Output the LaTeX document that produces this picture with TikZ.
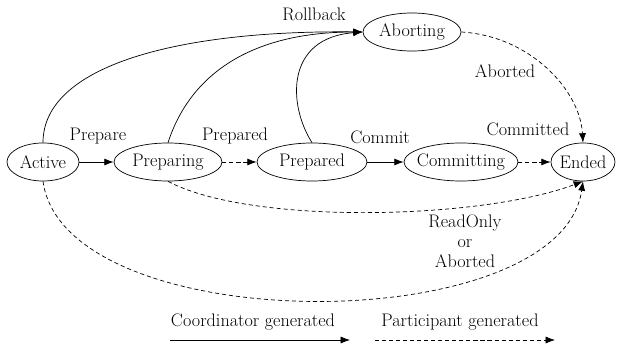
\documentclass[tikz,border=0pt]{standalone}
\usepackage{tikz}
\usetikzlibrary{shapes.geometric,arrows.meta}

\begin{document}
\begin{tikzpicture}[x=0.03cm,y=-0.03cm,line width=0.6pt,
  stnode/.style={draw,ellipse,inner xsep=-7pt,inner ysep=0pt,minimum height=1.14cm,font=\fontsize{15.5}{17}\selectfont},
  lbl/.style={font=\fontsize{15.5}{17}\selectfont,inner sep=1pt},
  coordarr/.style={-{Latex[length=8pt,width=6pt]}},
  partarr/.style={coordarr,dash pattern=on 3.5pt off 2.5pt}]
\useasboundingbox (0,0) rectangle (619,346);
\node[stnode,minimum width=2.16cm] (active) at (43,162) {Active};
\node[stnode,minimum width=3.24cm] (preparing) at (168,162) {Preparing};
\node[stnode,minimum width=3.3cm] (prepared) at (312,162) {Prepared};
\node[stnode,minimum width=3.42cm] (committing) at (461,162) {Committing};
\node[stnode,minimum width=1.92cm] (ended) at (583,162) {Ended};
\node[stnode,minimum width=2.94cm] (aborting) at (412,32) {Aborting};

\draw[coordarr] (active) -- (preparing);
\node[lbl] (lprepare) at (98,136) {Prepare};
\draw[partarr] (preparing) -- (prepared);
\node[lbl] (lprepared) at (235,136) {Prepared};
\draw[coordarr] (prepared) -- (committing);
\node[lbl] (lcommit) at (380,137) {Commit};
\draw[partarr] (committing) -- (ended);
\node[lbl] (lcommitted) at (528,129) {Committed};

% rollback
\draw[coordarr] (active.north) .. controls (43,65) and (180,30) .. (aborting.west);
\draw[coordarr] (preparing.north) .. controls (190,75) and (250,32) .. (aborting.west);
\draw[coordarr] (prepared.north) .. controls (288,105) and (285,38) .. (aborting.west);
\node[lbl] (lrollback) at (314,14) {Rollback};

\draw[partarr] (aborting.east) .. controls (530,36) and (580,90) .. (ended.north);
\node[lbl] (laborted) at (505,71) {Aborted};

\draw[partarr] (preparing.south) .. controls (250,225) and (480,220) .. (ended.south);
\draw[partarr] (active.south) .. controls (65,340) and (560,340) .. (ended.south);
\node[lbl,align=center] (lreadonly) at (465,241) {ReadOnly\\or\\Aborted};

% legend
\node[lbl] (lcoord) at (253,322) {Coordinator generated};
\coordinate (c1) at (170,340);
\coordinate (c2) at (350,340);
\draw[coordarr] (c1) -- (c2);
\node[lbl] (lpart) at (460,322) {Participant generated};
\coordinate (p1) at (375,340);
\coordinate (p2) at (555,340);
\draw[partarr] (p1) -- (p2);
\end{tikzpicture}
\end{document}
